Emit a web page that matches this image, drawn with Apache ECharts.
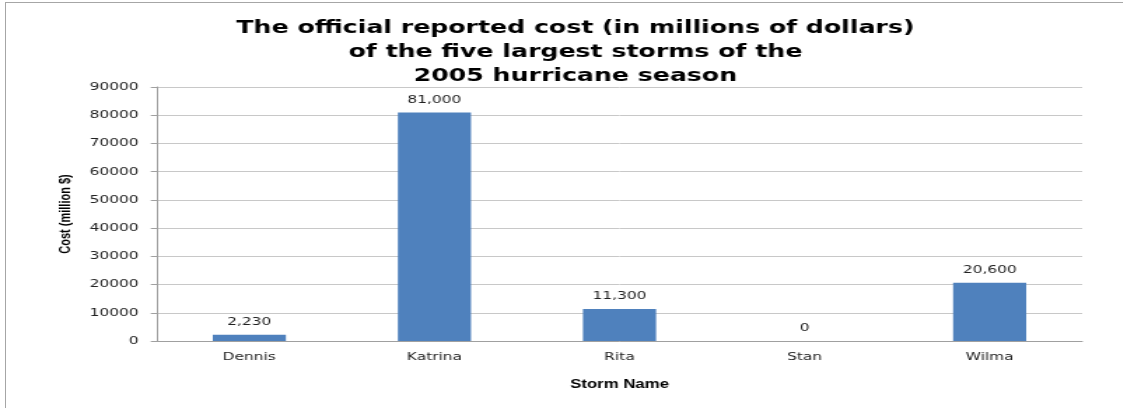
<!DOCTYPE html>
<html><head><meta charset="utf-8">
<script src="https://cdn.jsdelivr.net/npm/echarts@6/dist/echarts.min.js"></script>
<style>
html,body{margin:0;padding:0;background:#fff;overflow:hidden;}
#frame{position:absolute;left:5px;top:2px;width:1130px;height:420px;border:1px solid #a6a6a6;box-sizing:border-box;}
#c{position:absolute;left:0;top:0;width:802px;height:408px;transform:scaleX(1.4);transform-origin:0 0;}
</style></head>
<body>
<div id="frame"></div>
<div id="c"></div>
<script>
const categories = ['Dennis', 'Katrina', 'Rita', 'Stan', 'Wilma'];
const costs = [2230, 81000, 11300, 0, 20600];
const titleLines = ['The official reported cost (in millions of dollars)', 'of the five largest storms of the', '2005 hurricane season'];
const yName = 'Cost (million $)';
const xName = 'Storm Name';

const chart = echarts.init(document.getElementById('c'), null, {renderer: 'canvas'});
chart.setOption({
  animation: false,
  title: {
    text: titleLines.join('\n'),
    left: 406, top: 11, textAlign: 'center',
    textStyle: {fontFamily: 'DejaVu Sans', fontWeight: 'bold', fontSize: 18, lineHeight: 24, color: '#000'}
  },
  grid: {left: 112, right: 29, top: 87, bottom: 67, containLabel: false},
  xAxis: {
    type: 'category', data: categories,
    name: xName, nameLocation: 'middle', nameGap: 38,
    nameTextStyle: {fontFamily: 'Liberation Sans Narrow, Liberation Sans', fontWeight: 'bold', fontSize: 12, color: '#000'},
    axisLine: {lineStyle: {color: '#a0a0a0'}},
    axisTick: {show: false},
    axisLabel: {fontFamily: 'DejaVu Sans', fontSize: 11, color: '#222', margin: 11}
  },
  yAxis: {
    type: 'value', min: 0, max: 90000, interval: 10000,
    name: yName, nameLocation: 'middle', nameGap: 60, nameRotate: 90,
    nameTextStyle: {fontFamily: 'Liberation Sans Narrow, Liberation Sans', fontWeight: 'bold', fontSize: 11, color: '#000'},
    axisLine: {show: true, lineStyle: {color: '#a0a0a0'}},
    axisTick: {show: true, length: 4.3, lineStyle: {color: '#a0a0a0'}},
    axisLabel: {fontFamily: 'DejaVu Sans', fontSize: 11, color: '#222', margin: 13, formatter: v => String(v)},
    splitLine: {lineStyle: {color: '#c8c8c8'}}
  },
  series: [{
    type: 'bar', data: costs, barWidth: '39.5%',
    itemStyle: {color: '#4f81bd'},
    label: {
      show: true, position: 'top', distance: 7,
      fontFamily: 'DejaVu Sans', fontSize: 11, color: '#222',
      formatter: p => p.value.toLocaleString('en-US')
    }
  }]
});
</script>
</body></html>
